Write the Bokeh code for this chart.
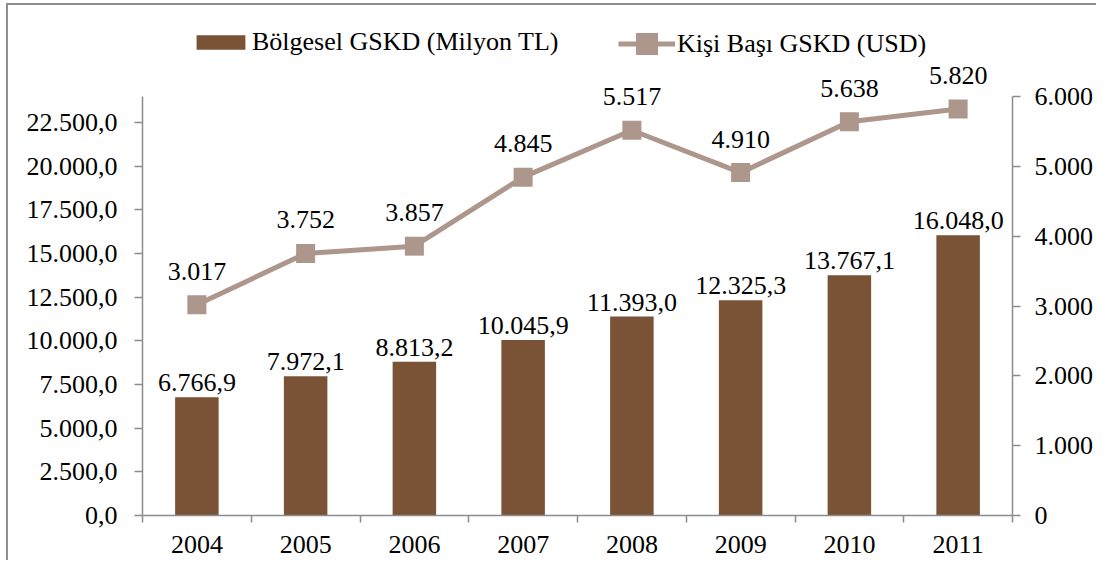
from bokeh.plotting import figure
from bokeh.models import (Range1d, LinearAxis, FixedTicker, CustomJSTickFormatter,
                          ColumnDataSource, LabelSet, Legend, LegendItem)
from bokeh.embed import file_html
from bokeh.resources import INLINE
from bokeh.core.properties import value

years = ["2004", "2005", "2006", "2007", "2008", "2009", "2010", "2011"]
gskd_tl = [6766.9, 7972.1, 8813.2, 10045.9, 11393.0, 12325.3, 13767.1, 16048.0]
per_capita_usd = [3017, 3752, 3857, 4845, 5517, 4910, 5638, 5820]
left_ticks = [0, 2500, 5000, 7500, 10000, 12500, 15000, 17500, 20000, 22500]
right_ticks = [0, 1000, 2000, 3000, 4000, 5000, 6000]
LEFT_MAX = 24000
RIGHT_MAX = 6000

BAR = "#7A5236"
LINE = "#AD968B"
AXIS = "#8C8C8C"
FONT = "Liberation Serif"
FS = "26px"

# layout (pixels)
FRAME_H = 510      # frame extends above axis top so that labels/legend are not clipped
AXIS_PX = 419      # visible axis height
ratio = FRAME_H / AXIS_PX


def tr_num(v, dec):
    s = f"{v:,.{dec}f}"
    return s.replace(",", "#").replace(".", ",").replace("#", ".")


xs = [i + 0.5 for i in range(len(years))]
src = ColumnDataSource(dict(
    x=xs, bar=gskd_tl, line=per_capita_usd,
    bar_lbl=[tr_num(v, 1) for v in gskd_tl],
    line_lbl=[tr_num(v, 0) for v in per_capita_usd],
))

p = figure(frame_width=870, frame_height=FRAME_H, output_backend="svg", toolbar_location=None,
           x_range=Range1d(0, len(years)), y_range=Range1d(0, LEFT_MAX * ratio),
           min_border_left=134, min_border_right=80, min_border_top=0,
           min_border_bottom=45)
p.extra_y_ranges = {"right": Range1d(0, RIGHT_MAX * ratio)}
p.outline_line_color = None
p.xgrid.visible = False
p.ygrid.visible = False
p.background_fill_color = "white"
p.border_fill_color = "white"
p.margin = (3, 0, 0, 6)
p.styles = {"border-left": "2px solid #8E8E8E", "border-top": "2px solid #8E8E8E"}

bars = p.vbar(x="x", top="bar", width=0.4, source=src, fill_color=BAR, line_color=None)
ln = p.line(x="x", y="line", source=src, line_color=LINE, line_width=5, y_range_name="right")
mk = p.scatter(x="x", y="line", source=src, marker="square", size=19,
               fill_color=LINE, line_color=None, y_range_name="right")

p.add_layout(LabelSet(x="x", y="bar", text="bar_lbl", source=src, y_offset=6,
                      text_align="center", text_baseline="bottom",
                      text_font=value(FONT), text_font_size=FS, text_color="black"))
p.add_layout(LabelSet(x="x", y="line", text="line_lbl", source=src, y_offset=25,
                      text_align="center", text_baseline="bottom", y_range_name="right",
                      text_font=value(FONT), text_font_size=FS, text_color="black"))

def style_axis(ax):
    ax.axis_line_color = AXIS
    ax.axis_line_width = 1.5
    ax.major_tick_line_color = AXIS
    ax.major_tick_line_width = 1.5
    ax.major_tick_in = 0
    ax.major_tick_out = 8
    ax.minor_tick_line_color = None
    ax.major_label_text_font = FONT
    ax.major_label_text_font_size = FS
    ax.major_label_text_color = "black"

# bottom axis
xa = p.xaxis[0]
style_axis(xa)
xa.ticker = FixedTicker(ticks=xs, minor_ticks=list(range(len(years) + 1)))
xa.formatter = CustomJSTickFormatter(args=dict(years=years),
                                     code="return years[Math.floor(tick)];")
xa.major_tick_line_color = None
xa.major_tick_out = 7
xa.minor_tick_line_color = AXIS
xa.minor_tick_line_width = 1.5
xa.minor_tick_in = 0
xa.minor_tick_out = 7
xa.major_label_standoff = 13

# left axis
ya = p.yaxis[0]
style_axis(ya)
ya.bounds = (0, LEFT_MAX)
ya.ticker = FixedTicker(ticks=left_ticks)
ya.formatter = CustomJSTickFormatter(code="""
const parts = tick.toFixed(1).split('.');
const ip = parts[0].replace(/\\B(?=(\\d{3})+(?!\\d))/g, '.');
return ip + ',' + parts[1];
""")
ya.major_label_standoff = 17

# right axis
ra = LinearAxis(y_range_name="right", ticker=FixedTicker(ticks=right_ticks),
                bounds=(0, RIGHT_MAX))
style_axis(ra)
ra.formatter = CustomJSTickFormatter(code="""
return tick.toFixed(0).replace(/\\B(?=(\\d{3})+(?!\\d))/g, '.');
""")
ra.major_label_standoff = 14
p.add_layout(ra, "right")


def style_legend(lg):
    lg.label_text_font = FONT
    lg.label_text_font_size = FS
    lg.label_text_color = "black"
    lg.border_line_color = None
    lg.background_fill_alpha = 0
    lg.padding = 0
    lg.margin = 0


leg1 = Legend(items=[LegendItem(label="Bölgesel GSKD (Milyon TL)", renderers=[bars])],
              orientation="horizontal", location=(48, 458))
style_legend(leg1)
leg1.glyph_width = 61
leg1.glyph_height = 18
leg1.label_standoff = 1
p.add_layout(leg1, "center")

leg2 = Legend(items=[LegendItem(label="Kişi Başı GSKD (USD)", renderers=[ln, mk])],
              orientation="horizontal", location=(476, 444))
style_legend(leg2)
leg2.glyph_width = 57
leg2.glyph_height = 55
leg2.label_standoff = 2
p.add_layout(leg2, "center")

open("out.html", "w").write(file_html(p, INLINE))
